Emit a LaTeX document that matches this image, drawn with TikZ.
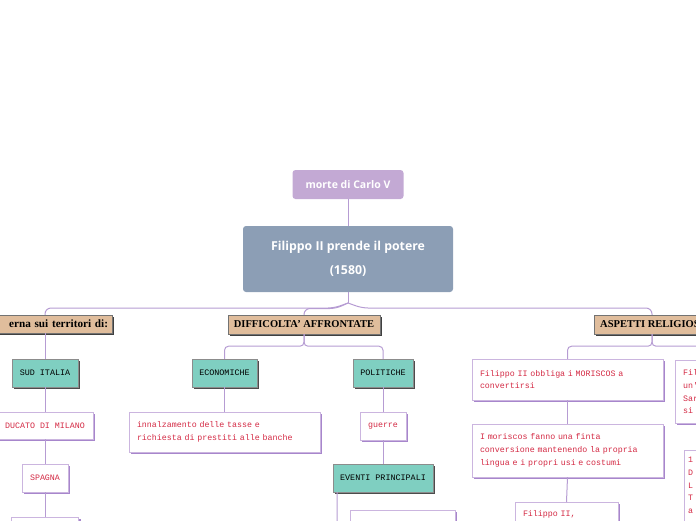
\documentclass[tikz,border=0pt]{standalone}
\usepackage{fontspec}
\setmainfont{Liberation Serif}
\newfontfamily\headfont{Open Sans}
\newfontfamily\boxfont{Liberation Mono}
\usetikzlibrary{shadows}

\definecolor{mortecol}{HTML}{C3A9D4}
\definecolor{poterecol}{HTML}{8C9EB5}
\definecolor{tancol}{HTML}{E0BD9C}
\definecolor{tealcol}{HTML}{7FCFC1}
\definecolor{notebord}{HTML}{CBB5DF}
\definecolor{noteshade}{HTML}{A786CC}
\definecolor{notered}{HTML}{D42A44}
\definecolor{linkcol}{HTML}{B69CD3}

\begin{document}
\begin{tikzpicture}[x=1pt,y=-1pt,
	link/.style={draw=linkcol, line width=1pt},
	topic/.style={rounded corners=3pt, text=white, font=\headfont\bfseries\fontsize{10.5}{12}\selectfont},
	branch/.style={draw=black!55, fill=tancol, font=\bfseries\fontsize{10.5}{12}\selectfont,
		drop shadow={shadow xshift=2pt, shadow yshift=-2pt, opacity=1, fill=black!75}},
	group/.style={draw=black!45, fill=tealcol, font=\boxfont\fontsize{8.4}{10}\selectfont,
		minimum height=28pt,
		drop shadow={shadow xshift=2pt, shadow yshift=-2pt, opacity=1, fill=black!70}},
	note/.style={draw=notebord, fill=white, text=notered, align=left, inner xsep=8pt,
		font=\boxfont\fontsize{8.3}{12.7}\selectfont,
		drop shadow={shadow xshift=2pt, shadow yshift=-2pt, opacity=1, fill=noteshade}}
]
	\useasboundingbox (0,0) rectangle (696,520);
	\clip (0,0) rectangle (696,520);

	% Root
	\node[topic, fill=mortecol, minimum width=111pt, minimum height=29pt] (morte) at (348,184.5) {morte di Carlo V};
	\node[topic, fill=poterecol, align=center, minimum width=210pt, minimum height=66pt,
		font=\headfont\bfseries\fontsize{12.3}{24}\selectfont] (potere) at (348,259) {Filippo II prende il potere\\(1580)};

	% Main branches
	\node[branch, minimum width=134pt, minimum height=18pt, inner xsep=4pt, text width=126pt, align=right,
		font=\bfseries\fontsize{11.2}{12}\selectfont] (territori) at (45,324) {erna sui territori di:};
	\node[branch, minimum width=152pt, minimum height=19pt] (difficolta) at (304,324.5) {DIFFICOLTA' AFFRONTATE};
	\node[branch, minimum width=116pt, minimum height=19pt] (religiosi) at (652,324.5) {ASPETTI RELIGIOSI};

	% Groups
	\node[group, minimum width=66pt] (sud) at (45,373) {SUD ITALIA};
	\node[group, minimum width=65pt] (economiche) at (224.5,373) {ECONOMICHE};
	\node[group, minimum width=60pt] (politiche) at (383,373) {POLITICHE};
	\node[group, minimum width=100pt] (eventi) at (383,478) {EVENTI PRINCIPALI};

	% Territories
	\node[note, minimum width=94pt, minimum height=27pt, align=center] (milano) at (45,425.5) {DUCATO DI MILANO};
	\node[note, minimum width=45pt, minimum height=28pt, align=center] (spagna) at (45,478) {SPAGNA};
	\node[note, minimum width=67pt, minimum height=27pt, anchor=north] (terzo) at (45,517) {};

	% Difficulties
	\node[note, text width=175pt, minimum height=40pt] (tasse) at (224.5,432) {innalzamento delle tasse e\\richiesta di prestiti alle banche};
	\node[note, minimum width=46pt, minimum height=28pt, align=center] (guerre) at (383,426) {guerre};
	\node[note, minimum width=105pt, minimum height=40pt, anchor=north] (evento) at (402.5,510) {};

	% Religious aspects
	\node[note, text width=175pt, minimum height=41pt] (obbliga) at (567.5,379.5) {Filippo II obbliga i MORISCOS a\\convertirsi};
	\node[note, text width=175pt, minimum height=53pt] (finta) at (567.5,450.5) {I moriscos fanno una finta\\conversione mantenendo la propria\\lingua e i propri usi e costumi};
	\node[note, text width=87pt, minimum height=24pt, anchor=north] (filippo) at (566.5,502) {Filippo II,};
	\node[note, text width=134pt, minimum height=63pt, anchor=north west] (relB) at (675,360) {Fil\\un'\\Sar\\si};
	\node[note, text width=134pt, anchor=north west, inner xsep=4pt, inner ysep=7pt] (relC) at (684,450) {1\\D\\L\\T\\a\\\ };

	% Connectors from the root
	\coordinate (fork) at (348,303);
	\draw[link] (morte) -- (potere);
	\draw[link] (potere.south) -- (fork);
	\draw[link, rounded corners=6pt] (fork) -- (334,308) -| (territori.north);
	\draw[link, rounded corners=6pt] (fork) -- (336,308.5) -| (difficolta.north);
	\draw[link, rounded corners=6pt] (fork) -- (362,308) -| (religiosi.north);

	% Connectors inside the branches
	\draw[link] (territori.south) -- (sud.north);
	\draw[link] (sud.south) -- (milano.north);
	\draw[link] (milano.south) -- (spagna.north);
	\draw[link] (spagna.south) -- (terzo.north);

	\draw[link, rounded corners=4pt] (difficolta.south) -- ++(0,12) -| (economiche.north);
	\draw[link, rounded corners=4pt] (difficolta.south) -- ++(0,12) -| (politiche.north);
	\draw[link] (economiche.south) -- (tasse.north);
	\draw[link] (politiche.south) -- (guerre.north);
	\draw[link] (guerre.south) -- (eventi.north);
	\coordinate (evdrop) at (337,492);
	\draw[link, rounded corners=4pt] (evdrop) |- (evento.west);

	\draw[link, rounded corners=4pt] (religiosi.south) -- ++(0,12) -| (obbliga.north);
	\draw[link, rounded corners=4pt] (religiosi.south) -- ++(0,12) -| (relB.north);
	\draw[link] (obbliga.south) -- (finta.north);
	\draw[link] (finta.south) -- (filippo.north);

\end{tikzpicture}
\end{document}
